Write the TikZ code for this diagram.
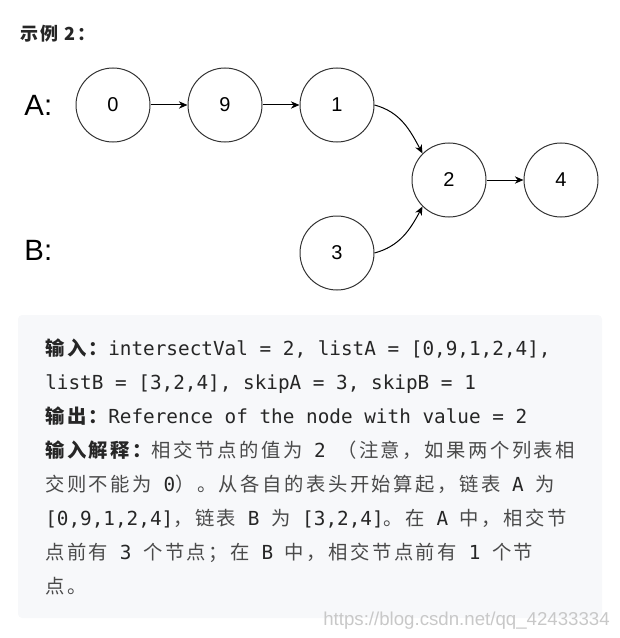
\documentclass[tikz,border=0pt]{standalone}
\usepackage{fontspec}
\setmainfont{Liberation Sans}
\setmonofont{DejaVu Sans Mono}
\newfontfamily\cjk[LetterSpace=13]{Noto Sans CJK SC}
\newfontfamily\cjkhead[LetterSpace=12]{Noto Sans CJK SC}
\usetikzlibrary{positioning,arrows.meta}
\definecolor{inkdark}{HTML}{262626}
\definecolor{inkcjk}{HTML}{4A4A4A}
\definecolor{boxbg}{HTML}{F7F8FA}
\definecolor{ringline}{HTML}{333333}
\definecolor{marktext}{HTML}{C8C8C8}
\newcommand\zhb[1]{{\cjk\bfseries #1}}
\newcommand\zh[1]{{\cjk\color{inkcjk}#1}}
\newcommand\mono[1]{{\ttfamily #1}}

\begin{document}
\begin{tikzpicture}[x=0.75pt, y=-0.75pt, node distance=84pt, auto]
    % Styles
    \tikzstyle{listnode} = [circle, draw=ringline, line width=0.75pt, fill=white,
        minimum size=55.5pt, inner sep=0pt, font=\fontsize{15}{18}\selectfont]
    \tikzstyle{listname} = [inner sep=0pt, font=\fontsize{22}{26}\selectfont]
    \tikzstyle{arrow} = [line width=0.75pt, -{Stealth[length=6.5pt, width=5.5pt]}]
    \tikzstyle{textline} = [anchor=base west, inner sep=0pt, text=inkdark,
        font=\fontsize{14.5}{17}\selectfont]

    \useasboundingbox (0,0) rectangle (619,638);

    % Heading
    \node [anchor=west, inner sep=0pt, text=inkdark,
        font=\fontsize{13.5}{16}\selectfont\cjkhead\bfseries] (heading) at (20,34) {示例 2：};

    % === LIST A ===
    \node [listnode] (a0) at (113,105) {0};
    \node [listnode, right of=a0] (a9) {9};
    \node [listnode, right of=a9] (a1) {1};

    % Shared tail
    \node [listnode, right of=a1, yshift=-56.25pt] (c2) {2};
    \node [listnode, right of=c2] (c4) {4};

    % === LIST B ===
    \node [listnode, below of=a1, yshift=-27pt] (b3) {3};

    % List names
    \node [listname, left of=a0, xshift=28pt] (labA) {A:};
    \node [listname, below of=labA, yshift=-24.75pt] (labB) {B:};

    % === ARROWS ===
    \draw [arrow] (a0) -- (a9);
    \draw [arrow] (a9) -- (a1);
    \draw [arrow] (a1.east) to[out=-15, in=118] (c2.north west);
    \draw [arrow] (b3.east) to[out=15, in=-118] (c2.south west);
    \draw [arrow] (c2) -- (c4);

    % === Example box ===
    \fill [boxbg, rounded corners=3pt] (18,315) rectangle (602,618);

    \node [textline] (l1) at (45,355) {\zhb{输入：}\mono{intersectVal = 2, listA = [0,9,1,2,4],}};
    \node [textline] (l2) at (45,389) {\mono{listB = [3,2,4], skipA = 3, skipB = 1}};
    \node [textline] (l3) at (45,423) {\zhb{输出：}\mono{Reference of the node with value = 2}};
    \node [textline] (l4) at (45,457) {\zhb{输入解释：}\zh{相交节点的值为}\mono{ 2 }\zh{（注意，如果两个列表相}};
    \node [textline] (l5) at (45,491) {\zh{交则不能为}\mono{ 0}\zh{）。从各自的表头开始算起，链表}\mono{ A }\zh{为}};
    \node [textline] (l6) at (45,525) {\mono{[0,9,1,2,4]}\zh{，链表}\mono{ B }\zh{为}\mono{ [3,2,4]}\zh{。在}\mono{ A }\zh{中，相交节}};
    \node [textline] (l7) at (45,559) {\zh{点前有}\mono{ 3 }\zh{个节点；在}\mono{ B }\zh{中，相交节点前有}\mono{ 1 }\zh{个节}};
    \node [textline] (l8) at (45,593) {\zh{点。}};

    % Watermark
    \node [anchor=east, inner sep=0pt, text=marktext, font=\fontsize{14}{16}\selectfont]
        (mark) at (610,621) {https://blog.csdn.net/qq\_42433334};
\end{tikzpicture}
\end{document}
